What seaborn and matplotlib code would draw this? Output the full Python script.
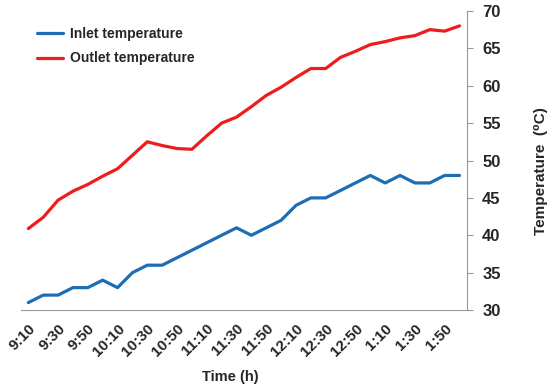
import numpy as np
import pandas as pd
import matplotlib
matplotlib.use("Agg")
import matplotlib.pyplot as plt
import seaborn as sns


times = ["9:10", "9:20", "9:30", "9:40", "9:50", "10:00", "10:10", "10:20", "10:30", "10:40",
         "10:50", "11:00", "11:10", "11:20", "11:30", "11:40", "11:50", "12:00", "12:10", "12:20",
         "12:30", "12:40", "12:50", "1:00", "1:10", "1:20", "1:30", "1:40", "1:50", "2:00"]
inlet = [31, 32, 32, 33, 33, 34, 33, 35, 36, 36, 37, 38, 39, 40, 41,
         40, 41, 42, 44, 45, 45, 46, 47, 48, 47, 48, 47, 47, 48, 48]
outlet = [40.9, 42.4, 44.7, 45.9, 46.8, 47.9, 48.9, 50.7, 52.5, 52.0,
          51.6, 51.5, 53.3, 55.0, 55.8, 57.2, 58.7, 59.8, 61.1, 62.3,
          62.3, 63.8, 64.6, 65.5, 65.9, 66.4, 66.7, 67.5, 67.3, 68.0]
series_names = ["Inlet temperature", "Outlet temperature"]
series_colors = ["#1c6db4", "#ee1c1c"]

df = pd.DataFrame({"Time": times * 2,
                   "Temp": inlet + outlet,
                   "Series": [series_names[0]] * len(times) + [series_names[1]] * len(times)})

sns.set_style("white")
plt.rcParams["font.family"] = ["Liberation Sans", "DejaVu Sans"]
plt.rcParams["font.weight"] = "bold"

fig = plt.figure(figsize=(5.5, 3.91), dpi=100)
ax = fig.add_axes([0.038, 0.207, 0.811, 0.765])

sns.lineplot(data=df, x="Time", y="Temp", hue="Series", palette=series_colors,
             linewidth=2.3, ax=ax, sort=False)

ax.set_xlim(-0.5, len(times) - 0.5)
ax.set_ylim(30, 70)
ax.set_yticks(np.arange(30, 71, 5))

# labels on every other category, ticks on category boundaries
ax.set_xticks(np.arange(0, len(times), 2))
ax.set_xticklabels(times[::2], rotation=45, ha="right", rotation_mode="anchor",
                   fontsize=11, fontweight="bold")
ax.set_xticks(np.arange(-0.5, len(times), 1), minor=True)
ax.tick_params(axis="x", which="major", length=0, pad=8)
ax.tick_params(axis="x", which="minor", length=4, width=0.8, color="#999999", direction="out")

ax.yaxis.tick_right()
ax.yaxis.set_label_position("right")
ax.tick_params(axis="y", length=4, width=0.8, color="#999999", direction="out",
               labelsize=12, pad=7)
for lab in ax.get_yticklabels():
    lab.set_fontweight("bold")

for side in ["top", "left"]:
    ax.spines[side].set_visible(False)
for side in ["bottom", "right"]:
    ax.spines[side].set_color("#999999")
    ax.spines[side].set_linewidth(0.8)

ax.set_xlabel("Time (h)", fontsize=10.5, fontweight="bold")
ax.set_ylabel("Temperature  (\u2070C)", fontsize=11, fontweight="bold")
ax.xaxis.set_label_coords(0.47, -0.2)
ax.yaxis.set_label_coords(1.15, 0.465)

ax.legend(frameon=False, loc="upper left", bbox_to_anchor=(0.057, 0.945),
          bbox_transform=fig.transFigure, fontsize=10, handlelength=1.9,
          handletextpad=0.5, labelspacing=0.75, borderaxespad=0)

fig.savefig("out.png", dpi=100)
